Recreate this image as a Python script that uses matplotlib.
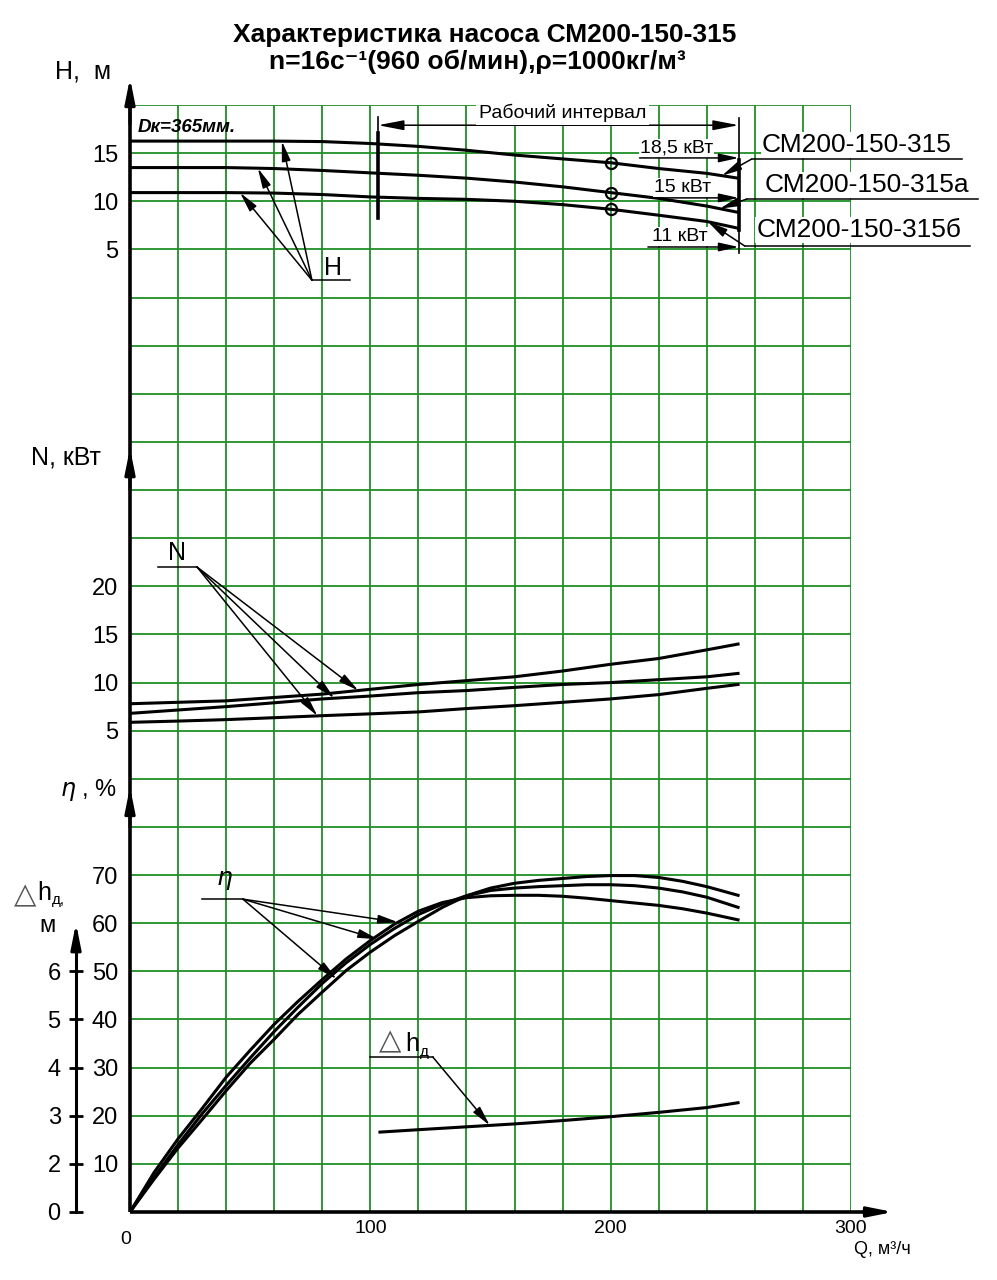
import numpy as np
import matplotlib
matplotlib.use('Agg')
from matplotlib import pyplot as plt

plt.rcParams['font.family'] = ['Liberation Sans', 'DejaVu Sans']

# ---- values ----
# head, Q in m3/h, H in m
Q = [0, 20, 40, 60, 80, 100, 120, 140, 160, 180, 200, 220, 240, 253]
H_315 = [16.25, 16.25, 16.25, 16.25, 16.2, 16.0, 15.7, 15.3, 14.8, 14.4, 14.0, 13.4, 12.9, 12.4]
H_315a = [13.5, 13.5, 13.5, 13.4, 13.2, 12.95, 12.7, 12.4, 12.0, 11.5, 10.9, 10.3, 9.5, 8.85]
H_315b = [10.9, 10.9, 10.9, 10.85, 10.7, 10.45, 10.3, 10.2, 10.0, 9.65, 9.17, 8.55, 7.9, 7.2]

# power, kW
N_315 = [7.8, 7.95, 8.1, 8.45, 8.8, 9.3, 9.8, 10.2, 10.6, 11.2, 11.9, 12.5, 13.4, 14.0]
N_315a = [6.8, 7.15, 7.5, 7.9, 8.3, 8.6, 8.95, 9.17, 9.5, 9.8, 10.0, 10.3, 10.6, 10.95]
N_315b = [5.87, 6.0, 6.15, 6.35, 6.56, 6.75, 6.95, 7.3, 7.6, 7.95, 8.3, 8.75, 9.4, 9.8]

# efficiency, %
Q_eta = [0, 10, 20, 30, 40, 50, 60, 70, 80, 90, 100, 110, 120, 130,
         140, 150, 160, 170, 180, 190, 200, 210, 220, 230, 240, 253]
eta_315 = [0, 6.8, 13.3, 19.2, 25.2, 30.9, 35.9, 41.1, 45.7, 50.2, 54.0, 57.4, 60.4, 63.3,
           65.7, 67.3, 68.3, 68.9, 69.3, 69.7, 69.9, 69.9, 69.5, 68.7, 67.6, 65.8]
eta_315a = [0, 7.2, 14.0, 20.4, 26.3, 32.0, 37.5, 42.6, 47.5, 51.8, 55.6, 58.9, 61.8, 64.0,
            65.7, 66.8, 67.3, 67.6, 67.8, 68.0, 68.0, 67.8, 67.3, 66.5, 65.4, 63.3]
eta_315b = [0, 8.2, 15.2, 21.5, 28.0, 33.6, 39.0, 43.8, 48.3, 52.6, 56.4, 59.8, 62.5, 64.3,
            65.3, 65.7, 65.8, 65.8, 65.6, 65.2, 64.7, 64.2, 63.7, 63.0, 62.1, 60.7]

# NPSH required, m
Q_dh = [104, 120, 140, 160, 180, 200, 220, 240, 253]
dh = [2.66, 2.71, 2.77, 2.83, 2.9, 2.98, 3.07, 3.17, 3.27]

models = ['СМ200-150-315', 'СМ200-150-315а', 'СМ200-150-315б']
powers = ['18,5 кВт', '15 кВт', '11 кВт']
x_ticks = [0, 20, 40, 60, 80, 100, 120, 140, 160, 180, 200, 220, 240, 260, 280, 300]
dh_ticks = [1, 2, 3, 4, 5, 6]
dh_labels = ['0', '2', '3', '4', '5', '6']

green = '#1f8f24'
narrow = ['Liberation Sans Narrow', 'Liberation Sans', 'DejaVu Sans']
lw_curve = 2.2


def leader(axx, tail, tip, ms=12):
    axx.annotate('', xy=tip, xytext=tail, annotation_clip=False,
                 arrowprops=dict(arrowstyle='-|>,head_length=1.0,head_width=0.22',
                                 mutation_scale=ms, lw=1.1, color='k',
                                 shrinkA=0, shrinkB=0))


def axis_arrow(axx, tail, tip, xycoords='data'):
    axx.annotate('', xy=tip, xytext=tail, xycoords=xycoords, textcoords=xycoords,
                 annotation_clip=False,
                 arrowprops=dict(arrowstyle='-|>,head_length=1.5,head_width=0.3',
                                 mutation_scale=10, lw=2.2, color='k',
                                 shrinkA=0, shrinkB=0))


fig = plt.figure(figsize=(9.97, 12.8), dpi=100)
rect = [130 / 997, 68 / 1280, 721 / 997, 1107 / 1280]

# main axes: efficiency scale carries the grid
ax = fig.add_axes(rect)
ax.set_xlim(0, 300)
ax.set_ylim(0, 230)
ax.set_xticks(x_ticks)
ax.set_xticklabels([str(v) if v in (100, 200, 300) else '' for v in x_ticks],
                   fontsize=14, family=narrow)
eta_ticks = np.arange(0, 231, 10)
ax.set_yticks(eta_ticks)
ax.set_yticklabels([str(v) if 10 <= v <= 70 else '' for v in eta_ticks], fontsize=17)
ax.tick_params(axis='y', length=0, pad=8.5)
ax.tick_params(axis='x', length=0, pad=6)
ax.grid(True, color=green, lw=1.3)
ax.set_axisbelow(True)
for s in ax.spines.values():
    s.set_visible(False)


def overlay(lo, hi):
    a = fig.add_axes(rect, sharex=ax)
    a.set_ylim(lo, hi)
    a.patch.set_visible(False)
    for s in a.spines.values():
        s.set_visible(False)
    a.tick_params(axis='x', bottom=False, labelbottom=False)
    a.tick_params(axis='y', length=0, pad=8.5, labelsize=17)
    return a


ax_H = overlay(-95, 20)
ax_H.set_yticks([5, 10, 15])
ax_N = overlay(-45, 70)
ax_N.set_yticks([5, 10, 15, 20])
ax_dh = overlay(1, 24)

# ---- H curves ----
for H in (H_315, H_315a, H_315b):
    ax_H.plot(Q, H, color='k', lw=lw_curve, solid_capstyle='butt')
    ax_H.plot(Q[10], H[10], 'o', mfc='none', mec='k', ms=8, mew=1.6)

ax_H.text(3.3, 17.7, 'Dк=365мм.', fontsize=13.5, fontweight='bold', style='italic',
          ha='left', va='center')

# working interval
ax_H.plot([103.2, 103.2], [18.75, 17.1], color='k', lw=1.2)
ax_H.plot([103.2, 103.2], [17.1, 8.3], color='k', lw=2.6)
ax_H.plot([253.3, 253.3], [18.6, 4.6], color='k', lw=1.2, clip_on=False)
ax_H.plot([253.3, 253.3], [14.3, 7.0], color='k', lw=2.6)
ax_H.annotate('', xy=(103.2, 17.9), xytext=(253.3, 17.9), annotation_clip=False,
              arrowprops=dict(arrowstyle='<|-|>,head_length=1.3,head_width=0.25',
                              mutation_scale=12, lw=1.1, color='k', shrinkA=0, shrinkB=0))
ax_H.text(180, 19.2, 'Рабочий интервал', fontsize=14, ha='center', va='center',
          bbox=dict(boxstyle='square,pad=0.15', fc='white', ec='none'))

# motor powers
pw_text = [(227.5, 15.5), (230, 11.4), (228.8, 6.3)]
pw_arrow = [(212, 14.5), (218.4, 10.35), (215.5, 5.25)]
for lab, (tx, ty), (sx, sy) in zip(powers, pw_text, pw_arrow):
    ax_H.text(tx, ty, lab, fontsize=14, ha='center', va='center',
              bbox=dict(boxstyle='square,pad=0.05', fc='white', ec='none'))
    leader(ax_H, (sx, sy), (253.3, sy))

# model names
md_text = [(262.9, 15.85), (264.1, 11.7), (260.8, 7.0)]
md_line = [(258.7, 346, 14.39), (256.7, 352.7, 10.24), (255.8, 349.4, 5.35)]
md_tip = [(246.3, H_315), (245.4, H_315a), (240.4, H_315b)]
for lab, (tx, ty), (x0, x1, ly), (qt, H) in zip(models, md_text, md_line, md_tip):
    ax_H.text(tx, ty, lab, fontsize=19, ha='left', va='center',
              bbox=dict(boxstyle='square,pad=0.05', fc='white', ec='none'))
    ax_H.plot([x0, x1], [ly, ly], color='k', lw=1.1, clip_on=False)
    leader(ax_H, (x0, ly), (qt, np.interp(qt, Q, H)))

# H leader
ax_H.text(84.4, 3.05, 'H', fontsize=18, ha='center', va='center')
ax_H.plot([75.7, 91.5], [1.8, 1.8], color='k', lw=1.1)
for qt, H in ((63.2, H_315), (53.2, H_315a), (45.8, H_315b)):
    leader(ax_H, (75.7, 1.8), (qt, np.interp(qt, Q, H)))

# ---- N curves ----
for N in (N_315, N_315a, N_315b):
    ax_N.plot(Q, N, color='k', lw=lw_curve)
ax_N.text(19.5, 23.5, 'N', fontsize=18, ha='center', va='center')
ax_N.plot([11.6, 27.9], [22.0, 22.0], color='k', lw=1.1)
for qt, N in ((95, N_315), (85, N_315a), (78, N_315b)):
    leader(ax_N, (27.9, 22.0), (qt, np.interp(qt, Q, N)))

# ---- efficiency curves ----
for e in (eta_315, eta_315a, eta_315b):
    ax.plot(Q_eta, e, color='k', lw=lw_curve)
ax.text(39.5, 69.0, r'$\eta$', fontsize=18, ha='center', va='center')
ax.plot([30, 47], [65, 65], color='k', lw=1.1)
for qt, e in ((111.5, eta_315b), (103.2, eta_315a), (86, eta_315)):
    leader(ax, (47, 65), (qt, np.interp(qt, Q_eta, e)))

# ---- NPSH curve ----
ax_dh.plot(Q_dh, dh, color='k', lw=lw_curve)
ax_dh.text(103.5, 4.55, '△', fontsize=21, color='#555555', ha='left', va='center',
           family=['DejaVu Sans'])
ax_dh.text(114.5, 4.5, 'h', fontsize=18, ha='left', va='center')
ax_dh.text(120.5, 4.33, 'д', fontsize=11, ha='left', va='center')
ax_dh.plot([99.8, 126], [4.22, 4.22], color='k', lw=1.1)
leader(ax_dh, (126, 4.22), (149.7, np.interp(149.7, Q_dh, dh)))

# NPSH axis on the far left
ax_dh.spines['left'].set_visible(True)
ax_dh.spines['left'].set_position(('axes', -54 / 721))
ax_dh.spines['left'].set_bounds(1, 6.8)
ax_dh.spines['left'].set_linewidth(2.2)
ax_dh.set_yticks(dh_ticks)
ax_dh.set_yticklabels(dh_labels)
ax_dh.tick_params(axis='y', direction='inout', length=10, width=2, pad=6, labelsize=17)
axis_arrow(ax_dh, (-54 / 721, 6.5), (-54 / 721, 7.0), xycoords=('axes fraction', 'data'))

# ---- main axis lines ----
ax.plot([0, 0], [0, 232], color='k', lw=2.6, clip_on=False, solid_capstyle='butt')
ax.plot([0, 312], [0, 0], color='k', lw=2.6, clip_on=False, solid_capstyle='butt')
axis_arrow(ax, (0, 226), (0, 235.6))
axis_arrow(ax, (0, 150), (0, 158.7))
axis_arrow(ax, (0, 80), (0, 88.3))
axis_arrow(ax, (305, 0), (317.5, 0))
ax.text(-2, -5.8, '0', fontsize=14, family=narrow, ha='center', va='center')

# axis titles
fig.text(83 / 997, 1 - 72 / 1280, 'H,  м', fontsize=18, ha='center', va='center')
fig.text(66 / 997, 1 - 458 / 1280, 'N, кВт', fontsize=18, ha='center', va='center')
fig.text(88 / 997, 1 - 790 / 1280, r'$\eta$ , %', fontsize=17, ha='center', va='center')
fig.text(14 / 997, 1 - 895 / 1280, '△', fontsize=21, color='#555555', ha='left',
         va='center', family=['DejaVu Sans'])
fig.text(37 / 997, 1 - 893 / 1280, 'h', fontsize=18, ha='left', va='center')
fig.text(52 / 997, 1 - 900 / 1280, 'д,', fontsize=11, ha='left', va='center')
fig.text(47 / 997, 1 - 926 / 1280, 'м', fontsize=17, ha='center', va='center')
fig.text(882 / 997, 1 - 1250 / 1280, 'Q, м³/ч', fontsize=13, family=narrow,
         ha='center', va='center')

# title
fig.text(485 / 997, 1 - 35 / 1280, 'Характеристика насоса СМ200-150-315',
         fontsize=19, fontweight='bold', ha='center', va='center')
fig.text(477 / 997, 1 - 62 / 1280, 'n=16с⁻¹(960 об/мин),ρ=1000кг/м³',
         fontsize=19, fontweight='bold', ha='center', va='center')

fig.savefig('out.png', dpi=100, facecolor='white')
